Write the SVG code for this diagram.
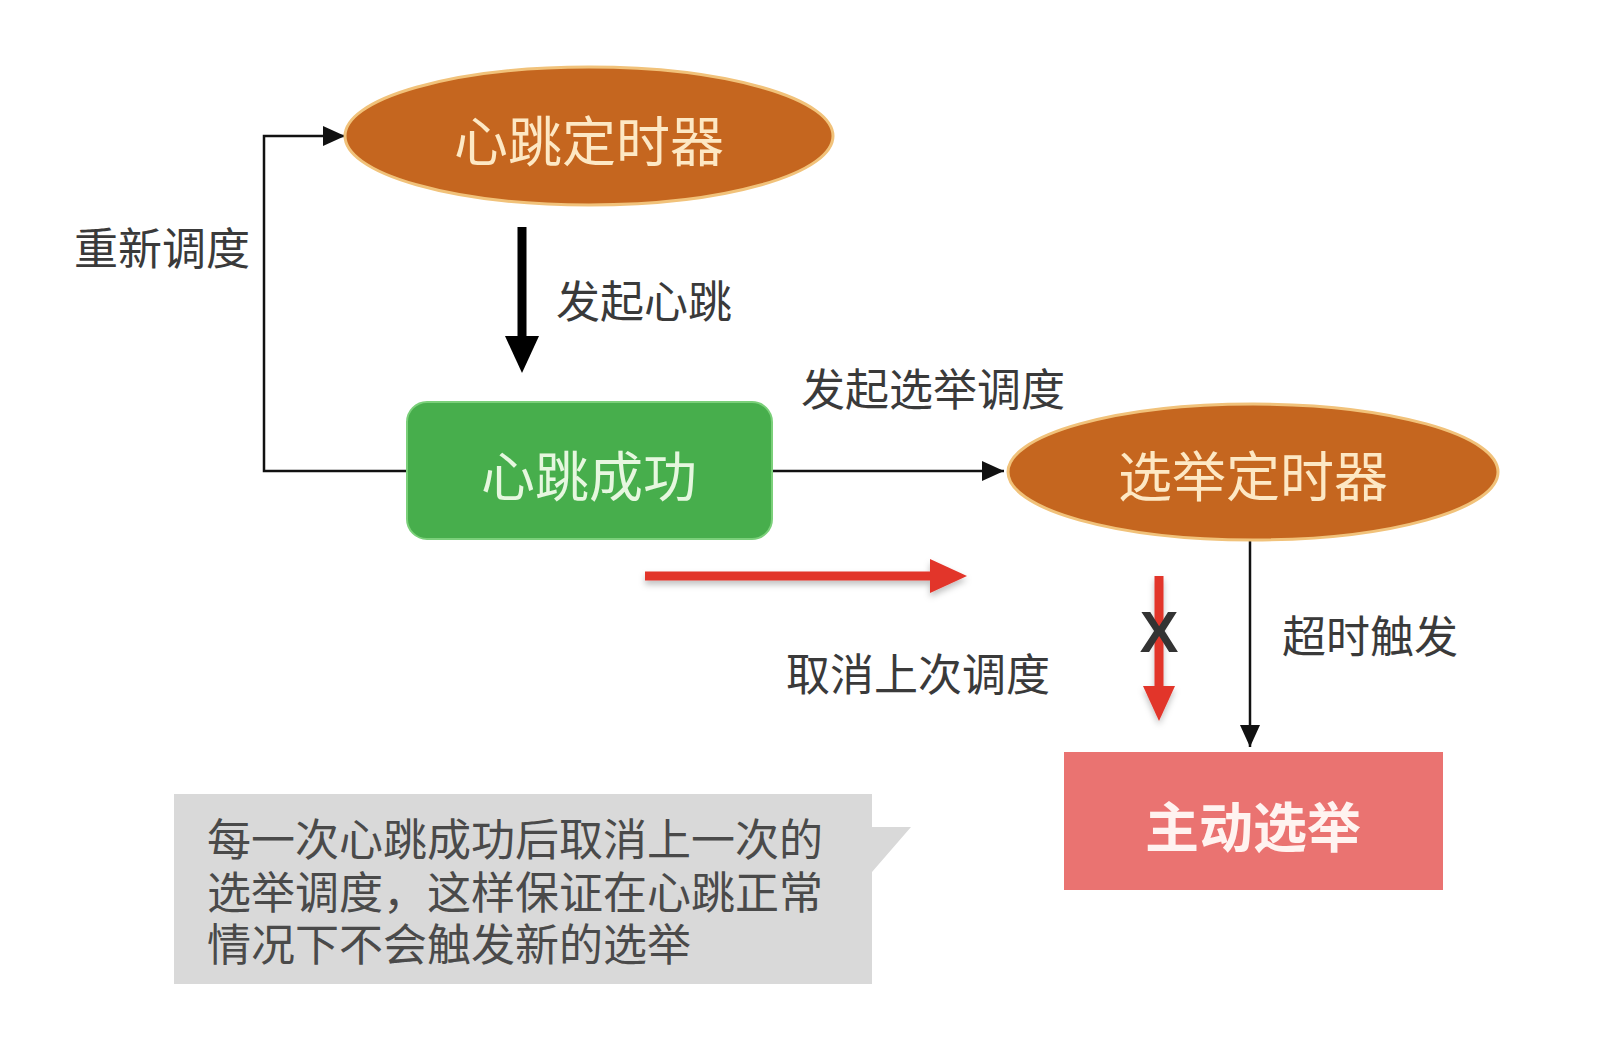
<svg xmlns="http://www.w3.org/2000/svg" width="1604" height="1056" viewBox="0 0 1604 1056">
<style>
.lbl{font-family:"Noto Sans CJK SC","Noto Sans",sans-serif;font-size:44px;fill:#3a3a3a;dominant-baseline:central}
.node{font-family:"Noto Sans CJK SC","Noto Sans",sans-serif;font-size:54px;text-anchor:middle;dominant-baseline:central}
.ell{fill:#c5661f;stroke:#f1c27a;stroke-width:3}
.thin{fill:none;stroke:#111;stroke-width:2.5}
.note{font-family:"Noto Sans CJK SC","Noto Sans",sans-serif;font-size:44px;fill:#4a4a4a;dominant-baseline:central}
</style>
<defs>
<marker id="ah" markerUnits="userSpaceOnUse" markerWidth="22" markerHeight="20" refX="22" refY="10" orient="auto">
<path d="M0,0 L22,10 L0,20 z" fill="#111"/>
</marker>
<filter id="sh" x="-10%" y="-50%" width="120%" height="200%">
<feDropShadow dx="0" dy="4" stdDeviation="3" flood-color="#000" flood-opacity="0.25"/>
</filter>
</defs>
<rect width="1604" height="1056" fill="#ffffff"/>

<g id="connectors">
<path class="thin" d="M407,471 H264 V136 H345" marker-end="url(#ah)"/>
<path d="M522,227 V340" stroke="#000" stroke-width="9" fill="none"/>
<path d="M505,336 L539,336 L522,373 z" fill="#000"/>
<path class="thin" d="M772,471 H1004" marker-end="url(#ah)"/>
<path class="thin" d="M1250,540 V747" marker-end="url(#ah)"/>
<g filter="url(#sh)">
<path d="M645,576 H935" stroke="#e2342b" stroke-width="9" fill="none"/>
<path d="M930,559 L967,576 L930,593 z" fill="#e2342b"/>
<path d="M1159,576 V690" stroke="#e2342b" stroke-width="9" fill="none"/>
<path d="M1143,686 L1175,686 L1159,721 z" fill="#e2342b"/>
</g>
<text x="1159" y="652" font-family="Liberation Sans,Arial,sans-serif" font-weight="bold" font-size="58" fill="#333" text-anchor="middle">X</text>
</g>

<g id="heartbeat-timer">
<ellipse class="ell" cx="589" cy="136" rx="244" ry="69"/>
<text class="node" x="589" y="138" fill="#fde8c4">心跳定时器</text>
</g>

<g id="heartbeat-success">
<rect x="407" y="402" width="365" height="137" rx="20" fill="#47ae4c" stroke="#7bd07a" stroke-width="2"/>
<text class="node" x="589" y="473" fill="#e6f7df">心跳成功</text>
</g>

<g id="election-timer">
<ellipse class="ell" cx="1253" cy="472" rx="245" ry="68"/>
<text class="node" x="1253" y="473" fill="#fde8c4">选举定时器</text>
</g>

<g id="active-election">
<rect x="1064" y="752" width="379" height="138" fill="#ea7371"/>
<text class="node" x="1253" y="824" fill="#fff3f0" font-size="45" font-weight="bold">主动选举</text>
</g>

<g id="labels">
<text class="lbl" x="74" y="246">重新调度</text>
<text class="lbl" x="556" y="299">发起心跳</text>
<text class="lbl" x="801" y="387">发起选举调度</text>
<text class="lbl" x="786" y="672">取消上次调度</text>
<text class="lbl" x="1282" y="634">超时触发</text>
</g>

<g id="note">
<path d="M174,794 H872 V827 L911,827 L872,872 V984 H174 Z" fill="#d9d9d9"/>
<text class="note" x="207" y="837">每一次心跳成功后取消上一次的</text>
<text class="note" x="207" y="890">选举调度，这样保证在心跳正常</text>
<text class="note" x="207" y="942">情况下不会触发新的选举</text>
</g>
</svg>
